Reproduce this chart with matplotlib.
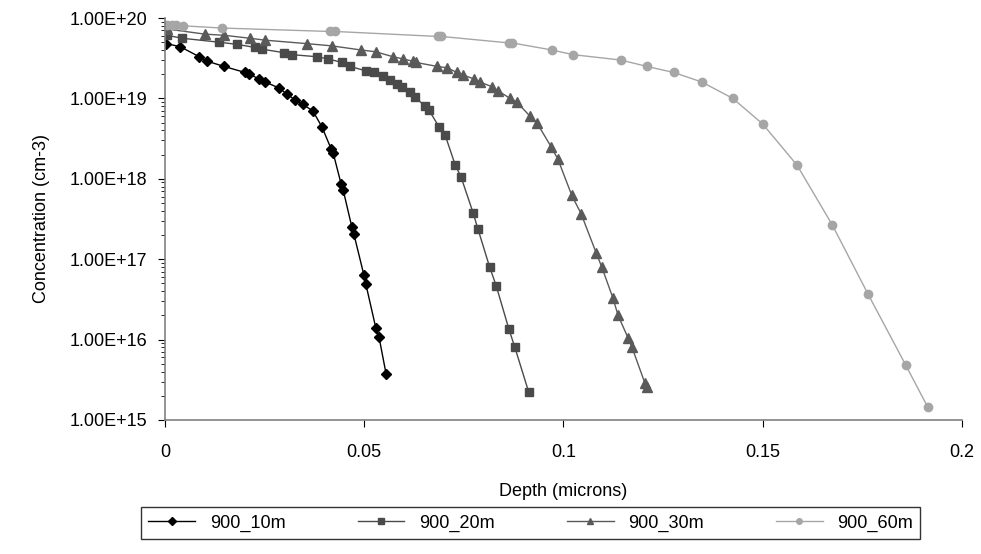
import matplotlib.pyplot as plt
from matplotlib.ticker import FixedLocator, LogLocator, NullFormatter

plt.rcParams['font.family'] = ['Liberation Sans', 'DejaVu Sans']

# depth (microns) and concentration (cm-3)
depth_10m = [0.0003, 0.0038, 0.0086, 0.0106, 0.0148, 0.0201, 0.0211, 0.0236, 0.0251, 0.0286,
             0.0306, 0.0326, 0.0346, 0.0371, 0.0394, 0.0417, 0.0422, 0.0442, 0.0447, 0.0469,
             0.0474, 0.0499, 0.0504, 0.0529, 0.0537, 0.0555]
conc_10m = [4.8e19, 4.4e19, 3.3e19, 2.9e19, 2.5e19, 2.1e19, 2.0e19, 1.75e19, 1.6e19, 1.35e19,
            1.13e19, 9.6e18, 8.4e18, 7.0e18, 4.4e18, 2.35e18, 2.1e18, 8.6e17, 7.3e17, 2.5e17,
            2.05e17, 6.4e16, 4.9e16, 1.4e16, 1.08e16, 3.7e15]

depth_20m = [0.0005, 0.0043, 0.0136, 0.0181, 0.0226, 0.0243, 0.0299, 0.0319, 0.0381, 0.0409,
             0.0444, 0.0464, 0.0504, 0.0524, 0.0547, 0.0564, 0.0582, 0.0595, 0.0615, 0.0627,
             0.0652, 0.0662, 0.0688, 0.0703, 0.0728, 0.0743, 0.0773, 0.0785, 0.0815, 0.0831,
             0.0863, 0.0878, 0.0913]
conc_20m = [6.1e19, 5.6e19, 5.0e19, 4.7e19, 4.3e19, 4.1e19, 3.7e19, 3.5e19, 3.3e19, 3.1e19,
            2.8e19, 2.5e19, 2.2e19, 2.1e19, 1.9e19, 1.7e19, 1.5e19, 1.4e19, 1.2e19, 1.05e19,
            8.0e18, 7.2e18, 4.4e18, 3.5e18, 1.5e18, 1.05e18, 3.8e17, 2.4e17, 7.9e16, 4.7e16,
            1.35e16, 8.0e15, 2.2e15]

depth_30m = [0.0005, 0.0100, 0.0148, 0.0213, 0.0251, 0.0356, 0.0419, 0.0492, 0.0529, 0.0572,
             0.0597, 0.0622, 0.0630, 0.0683, 0.0708, 0.0733, 0.0748, 0.0775, 0.0790, 0.0820,
             0.0835, 0.0866, 0.0883, 0.0916, 0.0933, 0.0969, 0.0986, 0.1021, 0.1044, 0.1082,
             0.1096, 0.1124, 0.1137, 0.1162, 0.1172, 0.1204, 0.1209]
conc_30m = [7.3e19, 6.3e19, 6.1e19, 5.6e19, 5.3e19, 4.8e19, 4.5e19, 4.0e19, 3.8e19, 3.3e19,
            3.1e19, 2.9e19, 2.8e19, 2.5e19, 2.4e19, 2.1e19, 1.95e19, 1.75e19, 1.6e19, 1.4e19,
            1.25e19, 1.0e19, 9.0e18, 6.0e18, 5.0e18, 2.5e18, 1.75e18, 6.2e17, 3.7e17, 1.2e17,
            8.0e16, 3.3e16, 2.0e16, 1.05e16, 8.0e15, 2.9e15, 2.6e15]

depth_60m = [0.0005, 0.0018, 0.0028, 0.0045, 0.0143, 0.0414, 0.0427, 0.0684, 0.0693, 0.0863,
             0.0871, 0.0971, 0.1024, 0.1144, 0.1209, 0.1277, 0.1347, 0.1425, 0.1500, 0.1586,
             0.1674, 0.1764, 0.1859, 0.1914]
conc_60m = [8.2e19, 8.2e19, 8.2e19, 8.0e19, 7.5e19, 6.8e19, 6.8e19, 5.9e19, 5.9e19, 4.9e19,
            4.9e19, 4.0e19, 3.5e19, 3.0e19, 2.5e19, 2.1e19, 1.6e19, 1.0e19, 4.8e18, 1.48e18,
            2.7e17, 3.7e16, 4.8e15, 1.45e15]

x_ticks = [0, 0.05, 0.1, 0.15, 0.2]
x_labels = ['0', '0.05', '0.1', '0.15', '0.2']
y_ticks = [1e15, 1e16, 1e17, 1e18, 1e19, 1e20]
y_labels = ['1.00E+15', '1.00E+16', '1.00E+17', '1.00E+18', '1.00E+19', '1.00E+20']

fig = plt.figure(figsize=(9.81, 5.54), dpi=100)
ax = fig.add_axes([0.1682, 0.2419, 0.8124, 0.7256])

ax.plot(depth_10m, conc_10m, color='black', marker='D', markersize=5, lw=1, label='900_10m')
ax.plot(depth_20m, conc_20m, color='#4a4a4a', marker='s', markersize=5.5, lw=1, label='900_20m')
ax.plot(depth_30m, conc_30m, color='#5a5a5a', marker='^', markersize=6.5, lw=1, label='900_30m')
ax.plot(depth_60m, conc_60m, color='#a6a6a6', marker='o', markersize=6, lw=1, label='900_60m')

ax.set_yscale('log')
ax.set_xlim(0, 0.2)
ax.set_ylim(1e15, 1e20)
ax.xaxis.set_major_locator(FixedLocator(x_ticks))
ax.set_xticklabels(x_labels)
ax.yaxis.set_major_locator(FixedLocator(y_ticks))
ax.set_yticklabels(y_labels)
ax.yaxis.set_minor_locator(LogLocator(base=10, subs=range(2, 10)))
ax.yaxis.set_minor_formatter(NullFormatter())

for side in ['top', 'right']:
    ax.spines[side].set_visible(False)
for side in ['left', 'bottom']:
    ax.spines[side].set_color('#808080')
    ax.spines[side].set_linewidth(1.2)
ax.tick_params(axis='both', which='major', direction='out', length=5, color='black',
               labelsize=13)
ax.tick_params(axis='x', which='major', pad=12)
ax.tick_params(axis='y', which='major', pad=8)
ax.tick_params(axis='y', which='minor', direction='out', length=3, color='black')

ax.set_xlabel('Depth (microns)', fontsize=13, labelpad=16)
ax.set_ylabel('Concentration (cm-3)', fontsize=13, labelpad=14)

leg = fig.legend(loc='center', bbox_to_anchor=(0.541, 0.056), ncol=4, fontsize=13,
                 frameon=True, fancybox=False, edgecolor='black', handlelength=2.6,
                 columnspacing=4.0, borderpad=0.4)
leg.get_frame().set_linewidth(1)
for h in leg.legend_handles:
    h.set_markersize(4)

fig.savefig('out.png', dpi=100)
